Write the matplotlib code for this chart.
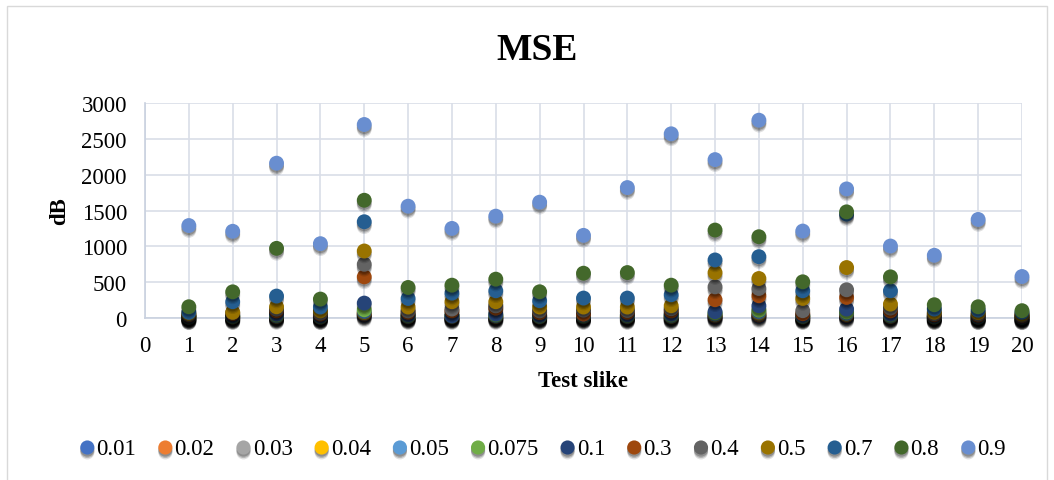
import matplotlib.pyplot as plt
import matplotlib.patheffects as pe
from matplotlib.patches import Rectangle

plt.rcParams['font.family'] = ['Liberation Serif', 'DejaVu Serif']

# data
tests = list(range(1, 21))
labels = ['0.01', '0.02', '0.03', '0.04', '0.05', '0.075', '0.1',
          '0.3', '0.4', '0.5', '0.7', '0.8', '0.9']
colors = ['#4472C4', '#ED7D31', '#A5A5A5', '#FFC000', '#5B9BD5', '#70AD47',
          '#264478', '#9E480E', '#636363', '#997300', '#255E91', '#43682B', '#698ED0']

s001 = [3, 4, 6, 3, 40, 5, 5, 6, 4, 5, 5, 6, 15, 25, 4, 20, 6, 3, 3, 2]
s002 = [6, 8, 12, 6, 55, 10, 10, 12, 8, 10, 10, 12, 25, 40, 8, 35, 12, 6, 5, 4]
s003 = [8, 12, 18, 9, 65, 15, 15, 18, 12, 15, 15, 18, 35, 55, 12, 45, 18, 9, 8, 6]
s004 = [10, 15, 25, 12, 75, 20, 20, 25, 16, 20, 20, 24, 45, 70, 16, 55, 24, 12, 10, 8]
s005 = [12, 18, 30, 15, 90, 25, 25, 30, 20, 25, 25, 30, 55, 85, 20, 65, 30, 15, 12, 10]
s0075 = [18, 26, 42, 22, 115, 35, 35, 42, 28, 35, 35, 42, 70, 110, 28, 85, 42, 20, 18, 14]
s01 = [25, 35, 55, 30, 208, 45, 32, 55, 38, 45, 45, 55, 88, 171, 36, 125, 55, 28, 24, 18]
s03 = [40, 60, 100, 55, 574, 80, 100, 138, 75, 55, 80, 100, 255, 310, 60, 287, 100, 45, 40, 30]
s04 = [50, 75, 125, 70, 750, 100, 125, 170, 100, 110, 105, 130, 435, 412, 102, 394, 140, 60, 55, 40]
s05 = [65, 80, 157, 100, 935, 153, 227, 227, 153, 153, 153, 171, 634, 551, 273, 704, 194, 80, 75, 55]
s07 = [80, 227, 306, 153, 1343, 273, 347, 380, 241, 278, 278, 324, 810, 856, 380, 1450, 380, 125, 110, 80]
s08 = [157, 365, 972, 264, 1643, 426, 458, 542, 366, 625, 634, 458, 1227, 1134, 505, 1481, 574, 185, 157, 102]
s09 = [1290, 1210, 2160, 1037, 2700, 1560, 1250, 1421, 1616, 1153, 1820, 2570, 2210, 2760, 1213, 1801, 1004, 875, 1375, 579]

series = [s001, s002, s003, s004, s005, s0075, s01, s03, s04, s05, s07, s08, s09]

fig = plt.figure(figsize=(10.54, 4.81), dpi=100)
ax = fig.add_axes([145/1054, 1-319/481, (1022-145)/1054, (319-104)/481])

# outer chart frame
fig.patches.append(Rectangle((7/1054, -0.01), (1047-7)/1054, 1-7/481+0.01,
                             transform=fig.transFigure, fill=False,
                             edgecolor='#D9D9D9', linewidth=1))

# soft shadow below each marker (Excel style)
shadow = [pe.SimplePatchShadow(offset=(0, -3.5), shadow_rgbFace='black', alpha=0.12),
          pe.SimplePatchShadow(offset=(0, -2.5), shadow_rgbFace='black', alpha=0.18),
          pe.SimplePatchShadow(offset=(0, -1.5), shadow_rgbFace='black', alpha=0.22),
          pe.Normal()]

for vals, lab, col in zip(series, labels, colors):
    ax.scatter(tests, vals, s=115, color=col, label=lab, clip_on=False,
               zorder=3, linewidths=0, path_effects=shadow)

ax.set_xlim(0, 20)
ax.set_ylim(0, 3000)
ax.set_xticks(range(0, 21))
ax.set_yticks(range(0, 3001, 500))
ax.grid(True, color='#D9DEE8', linewidth=1.2)
ax.set_axisbelow(True)
for side in ['top', 'right']:
    ax.spines[side].set_visible(False)
for side in ['left', 'bottom']:
    ax.spines[side].set_color('#C9D1DF')
    ax.spines[side].set_linewidth(1.2)
ax.tick_params(length=0, labelsize=16.5)
ax.tick_params(axis='y', pad=13)
ax.tick_params(axis='x', pad=12)

ax.set_xlabel('Test slike', fontsize=16.5, fontweight='bold', labelpad=10)
ax.set_ylabel('dB', fontsize=16.5, fontweight='bold', labelpad=8)

fig.text(537/1054, 1-50/481, 'MSE', ha='center', va='center', fontsize=27, fontweight='bold')

fig.legend(loc='center', bbox_to_anchor=(541/1054, 1-449/481), ncol=13, frameon=False,
           fontsize=16.5, handletextpad=-0.1, columnspacing=0.77, handlelength=1.0,
           markerscale=0.95, borderaxespad=0)

fig.savefig('out.png', dpi=100)
